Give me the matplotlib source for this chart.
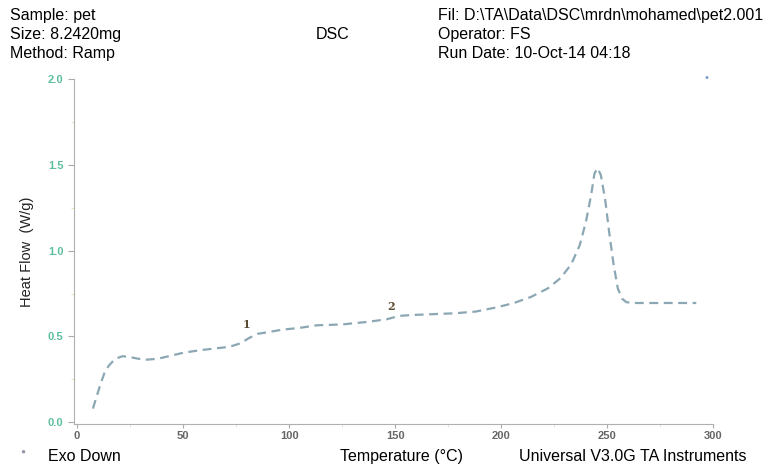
import numpy as np
import matplotlib
matplotlib.use("Agg")
from matplotlib import pyplot as plt

# DSC curve of PET
temp = [7.5, 9, 11, 13, 15, 18, 21.5, 25, 29, 33, 38, 45, 50, 58, 65, 72, 77,
        81, 85, 90, 97, 105, 113, 125, 137, 146, 152, 158, 168, 178, 188, 198,
        206, 214, 222, 228, 233, 237, 240, 242.5, 244, 245.5, 247, 249, 251,
        253, 255, 257, 259, 262, 270, 280, 292]
heat = [0.08, 0.14, 0.22, 0.29, 0.33, 0.37, 0.385, 0.38, 0.37, 0.365, 0.37,
        0.39, 0.405, 0.42, 0.43, 0.44, 0.46, 0.49, 0.515, 0.525, 0.54, 0.55,
        0.565, 0.57, 0.585, 0.60, 0.62, 0.625, 0.63, 0.635, 0.645, 0.67,
        0.695, 0.73, 0.78, 0.84, 0.92, 1.03, 1.17, 1.33, 1.45, 1.48, 1.44,
        1.30, 1.10, 0.92, 0.78, 0.72, 0.70, 0.695, 0.695, 0.695, 0.695]

xticks = [0, 50, 100, 150, 200, 250, 300]
yticks = [0.0, 0.5, 1.0, 1.5, 2.0]
marks = [("1", 80, 0.54), ("2", 148, 0.645)]

plt.rcParams['font.family'] = ['Liberation Sans', 'DejaVu Sans']

fig = plt.figure(figsize=(7.72, 4.67), dpi=100)
ax = fig.add_axes([0.0959, 0.092, 0.828, 0.739])

ax.plot(temp, heat, color='#8ca7b4', linestyle=(0, (4, 2.5)), linewidth=1.6)

for txt, x, y in marks:
    ax.text(x, y, txt, family='DejaVu Serif', fontsize=8, fontweight='bold',
            color='#5a4a30', ha='center', va='bottom')

ax.set_xlim(-1.4, 300)
ax.set_ylim(-0.01, 2.0)
ax.set_xticks(xticks)
ax.set_xticklabels([str(t) for t in xticks])
ax.set_yticks(yticks)
ax.set_yticklabels(["%.1f" % t for t in yticks])
ax.set_xticks([25, 75, 125, 175, 225, 275], minor=True)
ax.set_yticks([0.25, 0.75, 1.25, 1.75], minor=True)

ax.tick_params(axis='y', which='major', labelsize=8, labelcolor='#5cbfa0',
               color='#aaaaaa', length=4)
ax.tick_params(axis='y', which='minor', color='#cde8b0', length=2)
ax.tick_params(axis='x', which='major', labelsize=8, labelcolor='#666666',
               color='#aaaaaa', length=3, pad=2)
ax.tick_params(axis='x', which='minor', color='#dddddd', length=2)
for lbl in ax.get_yticklabels() + ax.get_xticklabels():
    lbl.set_fontweight('bold')

for s in ['top', 'right']:
    ax.spines[s].set_visible(False)
ax.spines['left'].set_color('#b0b0b0')
ax.spines['bottom'].set_color('#b0b0b0')

ax.set_ylabel("Heat Flow  (W/g)", fontsize=10.5, color='#222222', labelpad=10)

# header
fs = 11.5
fig.text(0.013, 0.967, "Sample: pet", fontsize=fs, va='center')
fig.text(0.013, 0.927, "Size: 8.2420mg", fontsize=fs, va='center')
fig.text(0.013, 0.886, "Method: Ramp", fontsize=fs, va='center')
fig.text(0.409, 0.927, "DSC", fontsize=fs, va='center')
fig.text(0.567, 0.967, "Fil: D:\\TA\\Data\\DSC\\mrdn\\mohamed\\pet2.001", fontsize=fs, va='center')
fig.text(0.567, 0.927, "Operator: FS", fontsize=fs, va='center')
fig.text(0.567, 0.886, "Run Date: 10-Oct-14 04:18", fontsize=fs, va='center')

# footer
fig.text(0.062, 0.022, "Exo Down", fontsize=fs, va='center')
fig.text(0.440, 0.022, "Temperature (°C)", fontsize=fs, va='center')
fig.text(0.672, 0.022, "Universal V3.0G TA Instruments", fontsize=fs, va='center')
fig.text(0.026, 0.032, "\u25cf", fontsize=6, color='#9a94aa', va='center')
fig.text(0.912, 0.833, "\u2022", fontsize=8, color='#7d9ad0', va='center')

fig.savefig("out.png", dpi=100)
